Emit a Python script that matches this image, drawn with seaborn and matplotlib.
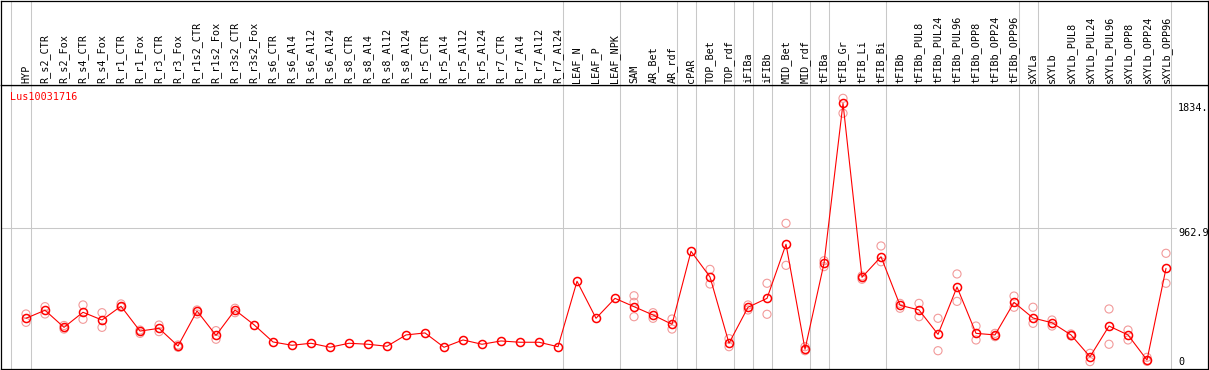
import numpy as np
import pandas as pd
import matplotlib
matplotlib.use('Agg')
import matplotlib.pyplot as plt
import seaborn as sns

# ── Data ─────────────────────────────────────────────────────
gene_id = 'Lus10031716'

samples = [
    'HYP', 'R_s2_CTR', 'R_s2_Fox', 'R_s4_CTR', 'R_s4_Fox', 'R_r1_CTR', 'R_r1_Fox',
    'R_r3_CTR', 'R_r3_Fox', 'R_r1s2_CTR', 'R_r1s2_Fox', 'R_r3s2_CTR', 'R_r3s2_Fox',
    'R_s6_CTR', 'R_s6_Al4', 'R_s6_Al12', 'R_s6_Al24', 'R_s8_CTR', 'R_s8_Al4',
    'R_s8_Al12', 'R_s8_Al24', 'R_r5_CTR', 'R_r5_Al4', 'R_r5_Al12', 'R_r5_Al24',
    'R_r7_CTR', 'R_r7_Al4', 'R_r7_Al12', 'R_r7_Al24', 'LEAF_N', 'LEAF_P', 'LEAF_NPK',
    'SAM', 'AR_Bet', 'AR_rdf', 'cPAR', 'TOP_Bet', 'TOP_rdf', 'iFIBa', 'iFIBb',
    'MID_Bet', 'MID_rdf', 'tFIBa', 'tFIB_Gr', 'tFIB_Li', 'tFIB_Bi', 'tFIBb',
    'tFIBb_PUL8', 'tFIBb_PUL24', 'tFIBb_PUL96', 'tFIBb_OPP8', 'tFIBb_OPP24',
    'tFIBb_OPP96', 'sXYLa', 'sXYLb', 'sXYLb_PUL8', 'sXYLb_PUL24', 'sXYLb_PUL96',
    'sXYLb_OPP8', 'sXYLb_OPP24', 'sXYLb_OPP96',
]

# mean expression per sample (bold circles)
mean_expr = [
    336, 392, 273, 378, 324, 420, 247, 266, 143, 387, 217, 394, 291,
    171, 148, 162, 134, 162, 155, 141, 220, 234, 134, 185, 155,
    178, 169, 169, 138, 594, 336, 475,
    417, 359, 294, 803, 624, 162, 413, 475,
    852, 120, 719, 1834, 622, 765, 427,
    394, 224, 554, 231, 220, 447, 338, 305, 220, 68, 282, 220, 45, 684,
]

# individual replicates (light circles)
rep_expr = [
    [366, 308], [417, 366], [286, 261], [429, 329], [375, 273], [436, 413],
    [254, 231], [289, 243], [150, 134], [394, 366], [250, 190], [406, 375],
    [], [], [], [], [], [], [], [], [], [], [], [], [], [], [], [], [],
    [], [], [],
    [493, 447, 347], [375, 336], [331, 261], [], [677, 575], [194, 138],
    [429, 394], [580, 364], [998, 705], [138, 110], [737, 696],
    [1869, 1765], [631, 608], [840, 730], [440, 406],
    [440, 347], [336, 110], [645, 454], [282, 185], [231, 208], [491, 413],
    [413, 301], [324, 282], [227, 213], [92, 34], [401, 155], [254, 185],
    [64, 36], [789, 580],
]

# group separators: gray rules drawn after these samples
group_ends = [0, 28, 31, 34, 35, 37, 38, 39, 41, 42, 45, 52, 53, 60]

ref_level = 962.9
axis_labels = ['1834.', '962.9', '0']
axis_values = [1834, ref_level, 0]

# ── Build frames ─────────────────────────────────────────────
pos = np.arange(len(samples))
mean_df = pd.DataFrame({'pos': pos, 'expr': mean_expr})
rep_df = pd.DataFrame([(i, v) for i, reps in enumerate(rep_expr) for v in reps],
                      columns=['pos', 'expr'])

# ── Plot ─────────────────────────────────────────────────────
sns.set_theme(style='white')
plt.rcParams['font.family'] = ['DejaVu Sans Mono', 'DejaVu Sans']

W, H = 1209, 370
fig = plt.figure(figsize=(W / 100, H / 100), dpi=100)
left, right = 1 / W, 1208 / W
head_bot = 1 - 85 / H
ax = fig.add_axes([left, 1 / H, right - left, head_bot - 1 / H])
axh = fig.add_axes([left, head_bot, right - left, 1 - 0.5 / H - head_bot], sharex=ax)

xlim = (-1.316, 62.21)
grid_c = '#C8C8C8'
red = '#FF0000'
pink = '#F29A9A'

for a in (ax, axh):
    a.set_xlim(*xlim)
    a.set_xticks([])
    a.set_yticks([])
    a.set_facecolor('white')
    for s in a.spines.values():
        s.set_color('black')
        s.set_linewidth(0.9)
    a.axvline(-0.805, color=grid_c, lw=0.75, zorder=0)
    for g in group_ends:
        a.axvline(g + 0.25, color=grid_c, lw=0.75, zorder=0)

axh.set_ylim(0, 1)
for i, name in enumerate(samples):
    axh.text(i, 0.02, name, rotation=90, ha='center', va='bottom',
             fontsize=7.3, color='black')

ax.set_ylim(-17.4, max(mean_expr) * 1.0697)
ax.axhline(ref_level, xmin=0, xmax=0.9735, color=grid_c, lw=0.75, zorder=0)

sns.scatterplot(data=rep_df, x='pos', y='expr', ax=ax, marker='o', s=34,
                facecolor='none', edgecolor=pink, linewidth=0.8,
                legend=False, zorder=2)
sns.lineplot(data=mean_df, x='pos', y='expr', ax=ax, color=red, linewidth=0.8,
             errorbar=None, marker='o', markersize=5.8, markerfacecolor='none',
             markeredgecolor=red, markeredgewidth=1.1, legend=False, zorder=3)
ax.set_xlabel('')
ax.set_ylabel('')

ax.text(0.0075, 0.975, gene_id, transform=ax.transAxes, ha='left', va='top',
        fontsize=7.3, color=red)

for lab, val in zip(axis_labels, axis_values):
    ax.text(0.9751, val, lab, transform=ax.get_yaxis_transform(), ha='left',
            va='top' if val > 0 else 'bottom', fontsize=7.3, color='black',
            clip_on=True)

plt.savefig('out.png', dpi=100)
plt.close()
